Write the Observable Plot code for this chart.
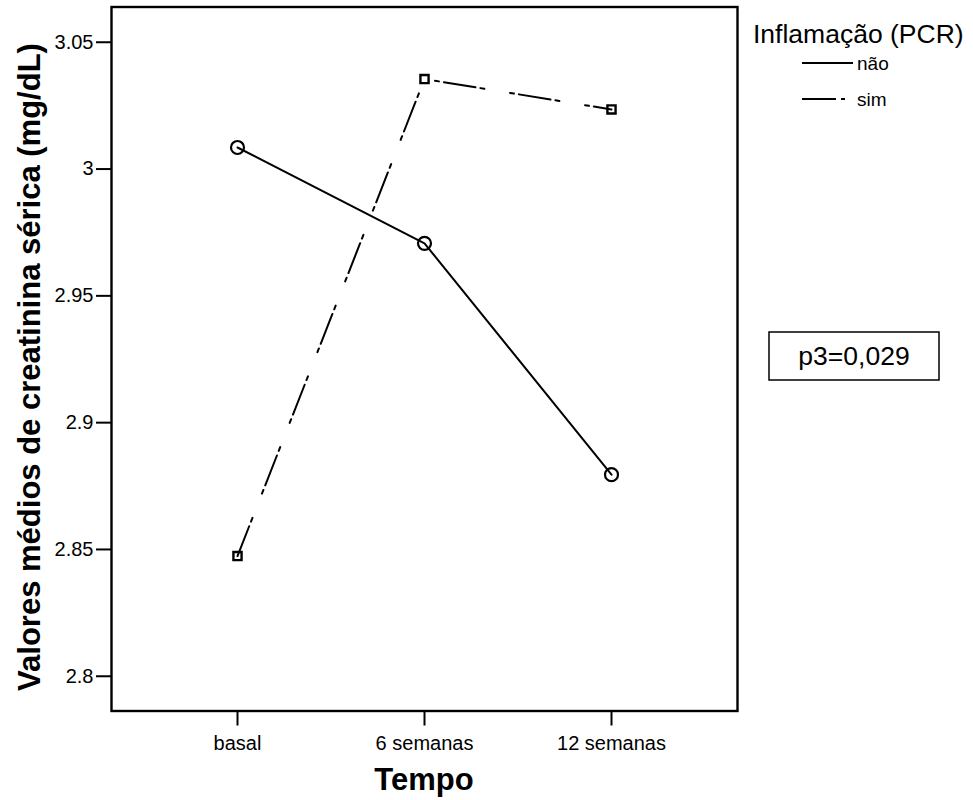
<!DOCTYPE html>
<html><head><meta charset="utf-8">
<script src="https://cdn.jsdelivr.net/npm/d3@7"></script>
<script src="https://cdn.jsdelivr.net/npm/@observablehq/plot@0.6"></script>
<style>html,body{margin:0;padding:0;background:#fff} svg{display:block}</style>
</head><body><div id="chart"></div>
<script>
// ---- data ----
const tempos = ["basal", "6 semanas", "12 semanas"];
const grupos = ["não", "sim"];
const naoValues = [3.0085, 2.9707, 2.8795];
const simValues = [2.8474, 3.0355, 3.0235];
const yTicks = [2.8, 2.85, 2.9, 2.95, 3, 3.05];
const yTickLabels = ["2.8", "2.85", "2.9", "2.95", "3", "3.05"];
const legendTitle = "Inflamação (PCR)";
const yLabel = "Valores médios de creatinina sérica (mg/dL)";
const xLabel = "Tempo";
const annotation = "p3=0,029";

const nao = tempos.map((t, i) => ({tempo: t, grupo: grupos[0], valor: naoValues[i]}));
const sim = tempos.map((t, i) => ({tempo: t, grupo: grupos[1], valor: simValues[i]}));

const font = "'Liberation Sans', Arial, Helvetica, sans-serif";
const dashSim = "32,5,4,26,4,5";

const plot = Plot.plot({
  width: 973, height: 800,
  marginLeft: 111, marginRight: 236, marginTop: 6.5, marginBottom: 89.5,
  style: {fontFamily: font, fontSize: "20px", color: "#000", background: "#fff", overflow: "visible"},
  x: {type: "point", domain: tempos, padding: 0.67, label: null},
  y: {domain: [2.7863, 3.0639], label: null},
  marks: [
    Plot.axisX({tickSize: 15, tickPadding: 10, strokeWidth: 2, fontSize: 20, label: null}),
    Plot.axisY({ticks: yTicks, tickFormat: d => yTickLabels[yTicks.indexOf(d)], tickSize: 15, tickPadding: 3, strokeWidth: 2, fontSize: 20, label: null}),
    Plot.frame({stroke: "#000", strokeWidth: 2.4}),
    Plot.line(nao, {x: "tempo", y: "valor", stroke: "#000", strokeWidth: 2}),
    Plot.line(sim, {x: "tempo", y: "valor", stroke: "#000", strokeWidth: 2, strokeDasharray: dashSim}),
    Plot.dot(nao, {x: "tempo", y: "valor", symbol: "circle", r: 6.5, stroke: "#000", strokeWidth: 2.2, fill: "none"}),
    Plot.dot(sim, {x: "tempo", y: "valor", symbol: "square", r: 4.6, stroke: "#000", strokeWidth: 2.4, fill: "none"})
  ]
});

const svg = d3.select(plot);
// axis titles
svg.append("text")
  .attr("transform", "translate(40,367) rotate(-90)")
  .attr("text-anchor", "middle")
  .style("font-family", font).style("font-size", "31px").style("font-weight", "bold")
  .attr("fill", "#000").text(yLabel);
svg.append("text")
  .attr("x", 424).attr("y", 790)
  .attr("text-anchor", "middle")
  .style("font-family", font).style("font-size", "31px").style("font-weight", "bold")
  .attr("fill", "#000").text(xLabel);

// legend
const lg = svg.append("g").style("font-family", font).attr("fill", "#000").attr("text-anchor", "start");
lg.append("text").attr("x", 753).attr("y", 43).attr("text-anchor", "start").style("font-size", "26.5px").text(legendTitle);
const items = [{label: grupos[0], dash: null, y: 63}, {label: grupos[1], dash: "34,5,4,60", y: 99}];
items.forEach(it => {
  lg.append("line").attr("x1", 802).attr("x2", 853).attr("y1", it.y).attr("y2", it.y)
    .attr("stroke", "#000").attr("stroke-width", 2).attr("stroke-dasharray", it.dash);
  lg.append("text").attr("x", 857).attr("y", it.y + 7).attr("text-anchor", "start").style("font-size", "19px").text(it.label);
});

// annotation box
const ag = svg.append("g");
ag.append("rect").attr("x", 769).attr("y", 332).attr("width", 170).attr("height", 48)
  .attr("fill", "#fff").attr("stroke", "#000").attr("stroke-width", 1.5);
ag.append("text").attr("x", 854).attr("y", 365).attr("text-anchor", "middle")
  .style("font-family", font).style("font-size", "26.5px").attr("fill", "#000").text(annotation);

document.getElementById("chart").appendChild(plot);
</script>
</body></html>
